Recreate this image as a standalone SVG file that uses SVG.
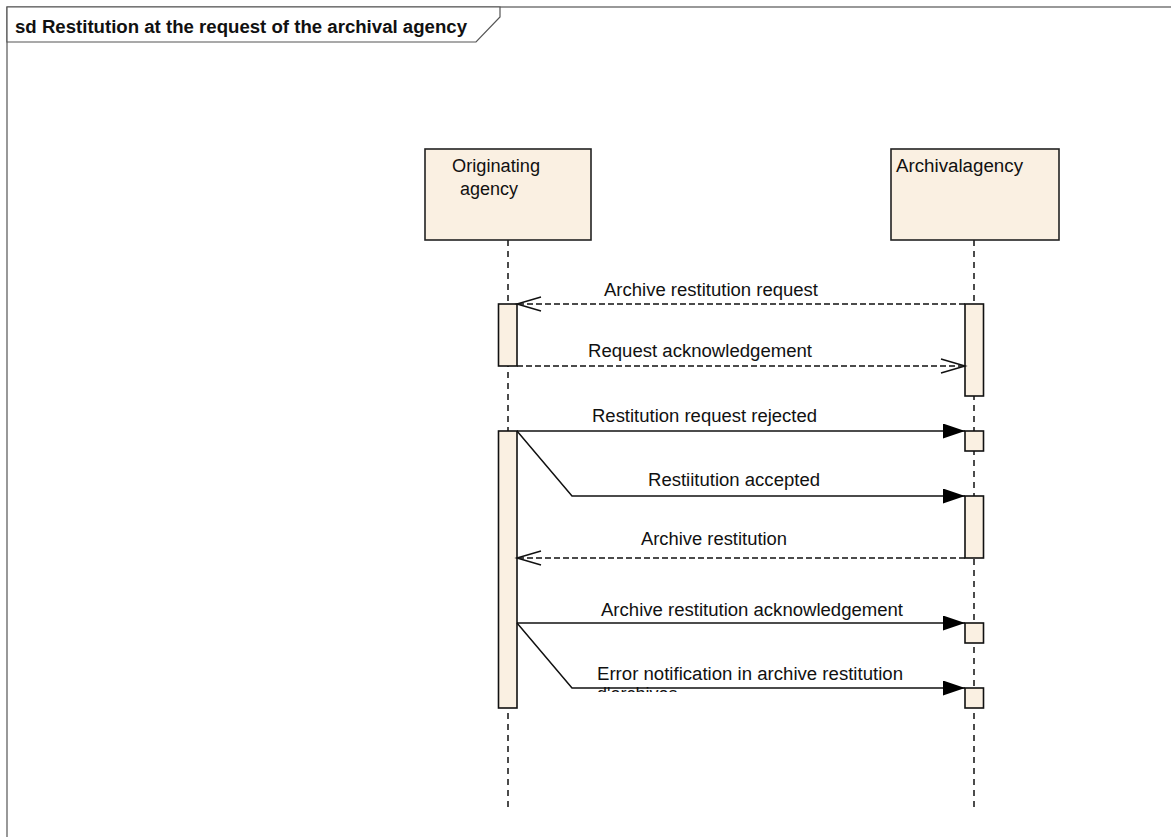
<svg xmlns="http://www.w3.org/2000/svg" width="1171" height="837" viewBox="0 0 1171 837">
<style>
text{font-family:"Liberation Sans",Arial,sans-serif;font-size:18px;fill:#111}
.title{font-weight:bold}
.frame{fill:none;stroke:#555;stroke-width:1.2}
.tab{fill:#fff;stroke:#555;stroke-width:1.2}
.box{fill:#FAF0E2;stroke:#222;stroke-width:1.6}
.act{fill:#FAF0E2;stroke:#111;stroke-width:1.6}
.life{stroke:#111;stroke-width:1.5;stroke-dasharray:6,5;fill:none}
.msg{stroke:#111;stroke-width:1.5;fill:none}
.dash{stroke-dasharray:6,3}
</style>
<defs>
<marker id="filled" markerUnits="userSpaceOnUse" markerWidth="24" markerHeight="16" refX="22" refY="7.5" orient="auto">
<path d="M0,0 L22,7.5 L0,15 z" fill="#000"/>
</marker>
<marker id="open" markerUnits="userSpaceOnUse" markerWidth="28" markerHeight="18" refX="25" refY="8" orient="auto">
<path d="M1,1 L25,8 L1,15" fill="none" stroke="#111" stroke-width="1.5"/>
</marker>
<clipPath id="clip2"><rect x="580" y="600" width="400" height="92"/></clipPath>
</defs>
<g id="frame">
<rect class="frame" x="7" y="7" width="1200" height="900"/>
<path class="tab" d="M7,7 L500,7 L500,17 L476,42 L7,42 Z"/>
<text class="title" x="15" y="33" textLength="452" lengthAdjust="spacingAndGlyphs">sd Restitution at the request of the archival agency</text>
</g>
<g id="lifelines">
<line class="life" x1="508" y1="240" x2="508" y2="808"/>
<line class="life" x1="974" y1="240" x2="974" y2="808"/>
</g>
<g id="originating-agency">
<rect class="box" x="425" y="149" width="166" height="91"/>
<text x="452" y="172" textLength="88" lengthAdjust="spacingAndGlyphs">Originating</text>
<text x="460" y="195" textLength="58" lengthAdjust="spacingAndGlyphs">agency</text>
</g>
<g id="archival-agency">
<rect class="box" x="891" y="149" width="168" height="91"/>
<text x="896" y="172" textLength="127" lengthAdjust="spacingAndGlyphs">Archivalagency</text>
</g>
<g id="activations">
<rect class="act" x="498.5" y="304" width="18.5" height="62"/>
<rect class="act" x="965" y="304" width="18.5" height="92"/>
<rect class="act" x="498.5" y="431" width="18.5" height="277"/>
<rect class="act" x="965" y="431" width="18.5" height="20"/>
<rect class="act" x="965" y="496" width="18.5" height="62"/>
<rect class="act" x="965" y="623" width="18.5" height="20"/>
<rect class="act" x="965" y="688" width="18.5" height="20"/>
</g>
<g id="connectors">
<line class="msg dash" x1="965" y1="304" x2="517" y2="304" marker-end="url(#open)"/>
<line class="msg dash" x1="517" y1="366" x2="965" y2="366" marker-end="url(#open)"/>
<line class="msg" x1="517" y1="431" x2="965" y2="431" marker-end="url(#filled)"/>
<polyline class="msg" points="517,431 572,496 965,496" marker-end="url(#filled)"/>
<line class="msg dash" x1="965" y1="558" x2="517" y2="558" marker-end="url(#open)"/>
<line class="msg" x1="517" y1="623" x2="965" y2="623" marker-end="url(#filled)"/>
<polyline class="msg" points="517,623 572,688 965,688" marker-end="url(#filled)"/>
</g>
<g id="labels">
<text x="604" y="296" textLength="214" lengthAdjust="spacingAndGlyphs">Archive restitution request</text>
<text x="588" y="357" textLength="224" lengthAdjust="spacingAndGlyphs">Request acknowledgement</text>
<text x="592" y="422" textLength="225" lengthAdjust="spacingAndGlyphs">Restitution request rejected</text>
<text x="648" y="486" textLength="172" lengthAdjust="spacingAndGlyphs">Restiitution accepted</text>
<text x="641" y="545" textLength="146" lengthAdjust="spacingAndGlyphs">Archive restitution</text>
<text x="601" y="616" textLength="302" lengthAdjust="spacingAndGlyphs">Archive restitution acknowledgement</text>
<text x="597" y="680" textLength="306" lengthAdjust="spacingAndGlyphs">Error notification in archive restitution</text>
<text x="597" y="700" clip-path="url(#clip2)">d'archives</text>
</g>
</svg>
